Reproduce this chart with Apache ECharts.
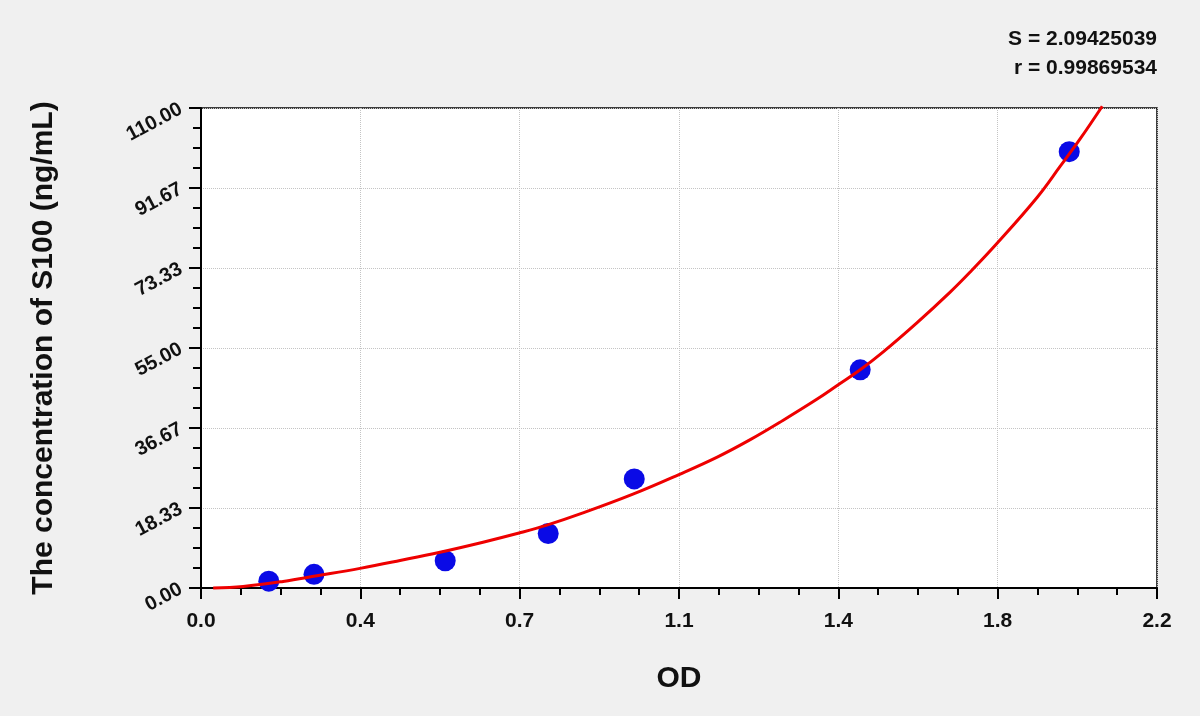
<!DOCTYPE html>
<html lang="en">
<head>
  <meta charset="UTF-8">
  <title>S100 standard curve</title>
  <script src="https://cdn.jsdelivr.net/npm/echarts@6/dist/echarts.min.js"></script>
  <style>
    html, body { margin: 0; padding: 0; background: #f0f0f0; }
  </style>
</head>
<body>
  <div id="main" style="width:1200px; height:716px;"></div>
  <script>
    // standard points (OD, concentration)
    var odValues = [0.156, 0.260, 0.562, 0.799, 0.997, 1.517, 1.998];
    var concValues = [1.5625, 3.125, 6.25, 12.5, 25, 50, 100];

    // fitted curve
    var curveOD = [0.028, 0.097, 0.189, 0.267, 0.366, 0.458, 0.550, 0.649, 0.732, 0.796,
                   0.879, 0.994, 1.100, 1.188, 1.264, 1.339, 1.418, 1.464, 1.517, 1.570,
                   1.648, 1.724, 1.770, 1.832, 1.924, 1.977, 2.023, 2.074];
    var curveConc = [0.0, 0.35, 1.5, 2.8, 4.5, 6.3, 8.2, 10.5, 12.6, 14.4,
                     17.2, 21.5, 26.0, 30.0, 34.0, 38.4, 43.3, 46.4, 50.0, 54.1,
                     60.8, 67.8, 72.4, 79.0, 89.5, 96.6, 102.9, 110.4];

    var xTickLabels = ['0.0', '0.4', '0.7', '1.1', '1.4', '1.8', '2.2'];
    var yTickLabels = ['0.00', '18.33', '36.67', '55.00', '73.33', '91.67', '110.00'];

    var fitText = ['S = 2.09425039', 'r = 0.99869534'];

    var pts = odValues.map(function (v, i) { return [v, concValues[i]]; });
    var line = curveOD.map(function (v, i) { return [v, curveConc[i]]; });

    var chart = echarts.init(document.getElementById('main'));
    var font = 'Liberation Sans, Arial, sans-serif';

    var option = {
      backgroundColor: '#f0f0f0',
      animation: false,
      grid: {
        left: 201, right: 43, top: 108, bottom: 128,
        show: true, backgroundColor: '#ffffff',
        borderColor: '#000000', borderWidth: 1.5
      },
      graphic: [
        { type: 'text', right: 43, top: 29,
          style: { text: fitText[0], fill: '#111', font: 'bold 21px ' + font, textAlign: 'right' } },
        { type: 'text', right: 43, top: 58,
          style: { text: fitText[1], fill: '#111', font: 'bold 21px ' + font, textAlign: 'right' } }
      ],
      xAxis: {
        type: 'value', min: 0, max: 2.2, interval: 2.2 / 6,
        name: 'OD', nameLocation: 'middle', nameGap: 76,
        nameTextStyle: { fontSize: 30, fontWeight: 'bold', color: '#111', fontFamily: font },
        axisLine: { show: true, lineStyle: { color: '#000', width: 2 } },
        axisTick: { show: true, length: 11, lineStyle: { color: '#000', width: 2 } },
        minorTick: { show: true, splitNumber: 4, length: 7, lineStyle: { color: '#000', width: 2 } },
        axisLabel: {
          fontSize: 21, fontWeight: 'bold', color: '#111', fontFamily: font, margin: 23,
          formatter: function (v, i) { return xTickLabels[i]; }
        },
        splitLine: { show: true, lineStyle: { color: '#c4c4c4', type: 'dotted', width: 1 } }
      },
      yAxis: {
        type: 'value', min: 0, max: 110, interval: 110 / 6,
        name: 'The concentration of S100 (ng/mL)', nameLocation: 'middle', nameGap: 142,
        nameTextStyle: { fontSize: 30, fontWeight: 'bold', color: '#111', fontFamily: font },
        axisLine: { show: true, lineStyle: { color: '#000', width: 2 } },
        axisTick: { show: true, length: 12, lineStyle: { color: '#000', width: 2 } },
        minorTick: { show: true, splitNumber: 4, length: 8, lineStyle: { color: '#000', width: 2 } },
        axisLabel: {
          fontSize: 20, fontWeight: 'bold', color: '#111', fontFamily: font, rotate: 28, margin: 20,
          formatter: function (v, i) { return yTickLabels[i]; }
        },
        splitLine: { show: true, lineStyle: { color: '#c4c4c4', type: 'dotted', width: 1 } }
      },
      series: [
        {
          type: 'line', data: line, showSymbol: false, smooth: 0.4, clip: false,
          lineStyle: { color: '#ee0000', width: 3 }, z: 2
        },
        {
          type: 'scatter', data: pts, symbol: 'circle', symbolSize: 21,
          itemStyle: { color: '#0a0ae6', opacity: 1 }, z: 1
        }
      ]
    };
    chart.setOption(option);
  </script>
</body>
</html>
